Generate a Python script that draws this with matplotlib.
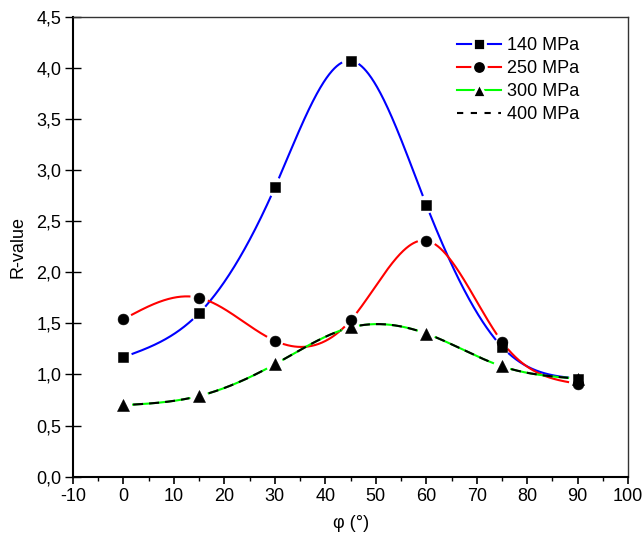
import numpy as np
import matplotlib
matplotlib.use("Agg")
import matplotlib.pyplot as plt
from matplotlib.lines import Line2D
from matplotlib.ticker import MultipleLocator, FuncFormatter

plt.rcParams['font.family'] = ['Liberation Sans', 'DejaVu Sans']
plt.rcParams['axes.unicode_minus'] = False

# Orientation angle (deg) and measured R-values for each pressure level
phi = [0, 15, 30, 45, 60, 75, 90]
r_140 = [1.17, 1.60, 2.83, 4.07, 2.66, 1.27, 0.96]
r_250 = [1.54, 1.75, 1.33, 1.53, 2.31, 1.32, 0.91]
r_300 = [0.70, 0.79, 1.10, 1.46, 1.40, 1.08, 0.96]
r_400 = [0.70, 0.79, 1.10, 1.46, 1.40, 1.08, 0.96]
labels = ['140 MPa', '250 MPa', '300 MPa', '400 MPa']
x_ticks = [-10, 0, 10, 20, 30, 40, 50, 60, 70, 80, 90, 100]
y_ticks = [0.0, 0.5, 1.0, 1.5, 2.0, 2.5, 3.0, 3.5, 4.0, 4.5]

FS = 13


def natural_spline(x, y, xs):
    """Natural cubic spline through (x, y), evaluated at xs."""
    x = np.asarray(x, float)
    y = np.asarray(y, float)
    n = len(x)
    h = np.diff(x)
    A = np.zeros((n, n))
    b = np.zeros(n)
    A[0, 0] = A[-1, -1] = 1.0
    for i in range(1, n - 1):
        A[i, i - 1] = h[i - 1]
        A[i, i] = 2 * (h[i - 1] + h[i])
        A[i, i + 1] = h[i]
        b[i] = 6 * ((y[i + 1] - y[i]) / h[i] - (y[i] - y[i - 1]) / h[i - 1])
    M = np.linalg.solve(A, b)
    idx = np.clip(np.searchsorted(x, xs) - 1, 0, n - 2)
    x0, x1 = x[idx], x[idx + 1]
    hh = x1 - x0
    t0 = x1 - xs
    t1 = xs - x0
    return (M[idx] * t0 ** 3 / (6 * hh) + M[idx + 1] * t1 ** 3 / (6 * hh)
            + (y[idx] / hh - M[idx] * hh / 6) * t0
            + (y[idx + 1] / hh - M[idx + 1] * hh / 6) * t1)


fig = plt.figure(figsize=(6.43, 5.39), dpi=100)
ax = fig.add_axes([0.1135, 0.1156, 0.8635, 0.8534])
ax.set_xlim(-10, 100)
ax.set_ylim(0, 4.5)


def gapped(x, y, radius=9.5):
    """Spline curve with short gaps around the data markers."""
    xs = np.linspace(min(x), max(x), 800)
    ys = natural_spline(x, y, xs)
    curve = ax.transData.transform(np.column_stack([xs, ys]))
    marks = ax.transData.transform(np.column_stack([x, y]))
    d = np.min(np.hypot(curve[:, None, 0] - marks[None, :, 0],
                        curve[:, None, 1] - marks[None, :, 1]), axis=1)
    ys = ys.copy()
    ys[d < radius] = np.nan
    return xs, ys


lw = 1.5
dash = (0, (4.8, 2.9))
ax.plot(*gapped(phi, r_140), color='#0000ff', lw=lw, zorder=2)
ax.plot(*gapped(phi, r_250), color='#ff0000', lw=lw, zorder=2)
ax.plot(*gapped(phi, r_300), color='#00ff00', lw=lw, zorder=2)
ax.plot(*gapped(phi, r_400), color='black', lw=lw, linestyle=dash, zorder=3)

ax.plot(phi, r_140, linestyle='none', marker='s', ms=6.6, color='black', mec='black', mew=0.4, zorder=4)
ax.plot(phi, r_300, linestyle='none', marker='^', ms=8.0, color='black', mec='black', mew=0.4, zorder=5)
ax.plot(phi, r_250, linestyle='none', marker='o', ms=7.8, color='black', mec='black', mew=0.4, zorder=6)

handles = [
    Line2D([], [], color='#0000ff', lw=lw, marker='s', ms=8.6, mfc='black', mec='white', mew=2.0),
    Line2D([], [], color='#ff0000', lw=lw, marker='o', ms=9.8, mfc='black', mec='white', mew=2.0),
    Line2D([], [], color='#00ff00', lw=lw, marker='^', ms=10.0, mfc='black', mec='white', mew=2.0),
    Line2D([], [], color='black', lw=lw, linestyle=(0, (3.0, 3.6))),
]
ax.legend(handles, labels, loc='upper left', bbox_to_anchor=(0.692, 0.956),
          frameon=False, fontsize=FS, handlelength=2.4, handletextpad=0.35,
          labelspacing=0.33, borderpad=0, borderaxespad=0)

ax.xaxis.set_minor_locator(MultipleLocator(5))
ax.set_xticks(x_ticks)
ax.set_yticks(y_ticks)
ax.yaxis.set_major_formatter(FuncFormatter(lambda v, p: f"{v:.1f}".replace('.', ',')))

ax.tick_params(axis='x', which='major', direction='out', length=5, width=1.2, labelsize=FS, pad=3)
ax.tick_params(axis='x', which='minor', direction='out', length=3, width=1.0)
ax.tick_params(axis='y', which='major', direction='inout', length=11, width=1.0, labelsize=FS, pad=3)

for side in ('left', 'bottom'):
    ax.spines[side].set_linewidth(1.5)
    ax.spines[side].set_color('black')
for side in ('top', 'right'):
    ax.spines[side].set_linewidth(1.0)
    ax.spines[side].set_color('#333333')

ax.set_xlabel('φ (°)', fontsize=FS, labelpad=7)
ax.set_ylabel('R-value', fontsize=FS, labelpad=7)

fig.savefig('out.png', dpi=100)
